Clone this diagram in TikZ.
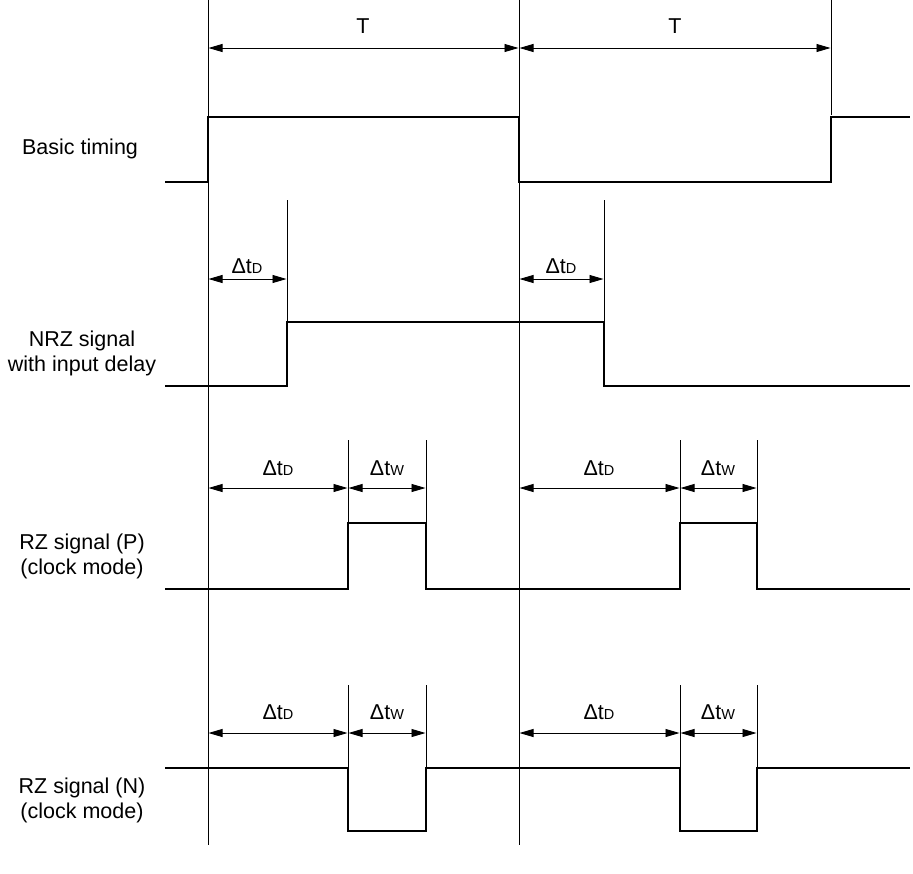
\documentclass[tikz,border=0pt]{standalone}
\usepackage{fontspec}
\setmainfont{Liberation Sans}
\usetikzlibrary{arrows.meta}
\newcommand{\dtsub}[1]{Δt{\fontsize{14.5}{14.5}\selectfont #1}}
\begin{document}
\begin{tikzpicture}[x=1pt,y=-1pt,
  thinline/.style={line width=0.9pt},
  sig/.style={line width=2.6pt,line join=miter},
  dim/.style={line width=0.9pt,{Triangle[length=14pt,width=8pt]}-{Triangle[length=14pt,width=8pt]},shorten <=0.5pt,shorten >=0.5pt},
  lbl/.style={font=\fontsize{21.5}{25}\selectfont,align=center,inner sep=0pt},
  dl/.style={font=\fontsize{21.5}{25}\selectfont,inner sep=0pt}]
\useasboundingbox (0,0) rectangle (913,873);
% vertical reference lines
\draw[thinline] (208,0) -- (208,845);
\draw[thinline] (519,0) -- (519,845);
\draw[thinline] (831,0) -- (831,115);
\draw[thinline] (287,200) -- (287,322);
\draw[thinline] (604,200) -- (604,322);
\foreach \x in {348,426,680,757} {
  \draw[thinline] (\x,440) -- (\x,523);
  \draw[thinline] (\x,685) -- (\x,768);
}
% coordinates for dimension arrows
\coordinate (ta) at (208,48);
\coordinate (tb) at (519,48);
\coordinate (tc) at (831,48);
\coordinate (na) at (208,279);
\coordinate (nb) at (287,279);
\coordinate (nc) at (519,279);
\coordinate (nd) at (604,279);
\coordinate (pa) at (208,488);
\coordinate (pb) at (348,488);
\coordinate (pc) at (426,488);
\coordinate (pd) at (519,488);
\coordinate (pe) at (680,488);
\coordinate (pf) at (757,488);
\coordinate (qa) at (208,733);
\coordinate (qb) at (348,733);
\coordinate (qc) at (426,733);
\coordinate (qd) at (519,733);
\coordinate (qe) at (680,733);
\coordinate (qf) at (757,733);
\draw[dim] (ta) -- (tb);
\draw[dim] (tb) -- (tc);
\draw[dim] (na) -- (nb);
\draw[dim] (nc) -- (nd);
\draw[dim] (pa) -- (pb);
\draw[dim] (pb) -- (pc);
\draw[dim] (pd) -- (pe);
\draw[dim] (pe) -- (pf);
\draw[dim] (qa) -- (qb);
\draw[dim] (qb) -- (qc);
\draw[dim] (qd) -- (qe);
\draw[dim] (qe) -- (qf);
% dimension labels
\node[dl] (t1) at (363,26) {T};
\node[dl] (t2) at (675,26) {T};
\node[dl] (d1) at (247,266) {\dtsub{D}};
\node[dl] (d2) at (561,266) {\dtsub{D}};
\node[dl] (d3) at (278,468) {\dtsub{D}};
\node[dl] (w1) at (387,468) {\dtsub{W}};
\node[dl] (d4) at (599,468) {\dtsub{D}};
\node[dl] (w2) at (718,468) {\dtsub{W}};
\node[dl] (d5) at (278,712) {\dtsub{D}};
\node[dl] (w3) at (387,712) {\dtsub{W}};
\node[dl] (d6) at (599,712) {\dtsub{D}};
\node[dl] (w4) at (718,712) {\dtsub{W}};
% signals
\draw[sig] (165,182) -- (208,182) -- (208,117) -- (519,117) -- (519,182) -- (831,182) -- (831,117) -- (910,117);
\draw[sig] (165,386) -- (287,386) -- (287,322) -- (604,322) -- (604,386) -- (910,386);
\draw[sig] (165,589) -- (348,589) -- (348,523) -- (426,523) -- (426,589) -- (680,589) -- (680,523) -- (757,523) -- (757,589) -- (910,589);
\draw[sig] (165,768) -- (348,768) -- (348,831) -- (426,831) -- (426,768) -- (680,768) -- (680,831) -- (757,831) -- (757,768) -- (910,768);
% signal names
\node[lbl] (s1) at (80,149) {Basic timing};
\node[lbl] (s2) at (82,353) {NRZ signal\\with input delay};
\node[lbl] (s3) at (82,556) {RZ signal (P)\\(clock mode)};
\node[lbl] (s4) at (82,800) {RZ signal (N)\\(clock mode)};
\end{tikzpicture}
\end{document}
